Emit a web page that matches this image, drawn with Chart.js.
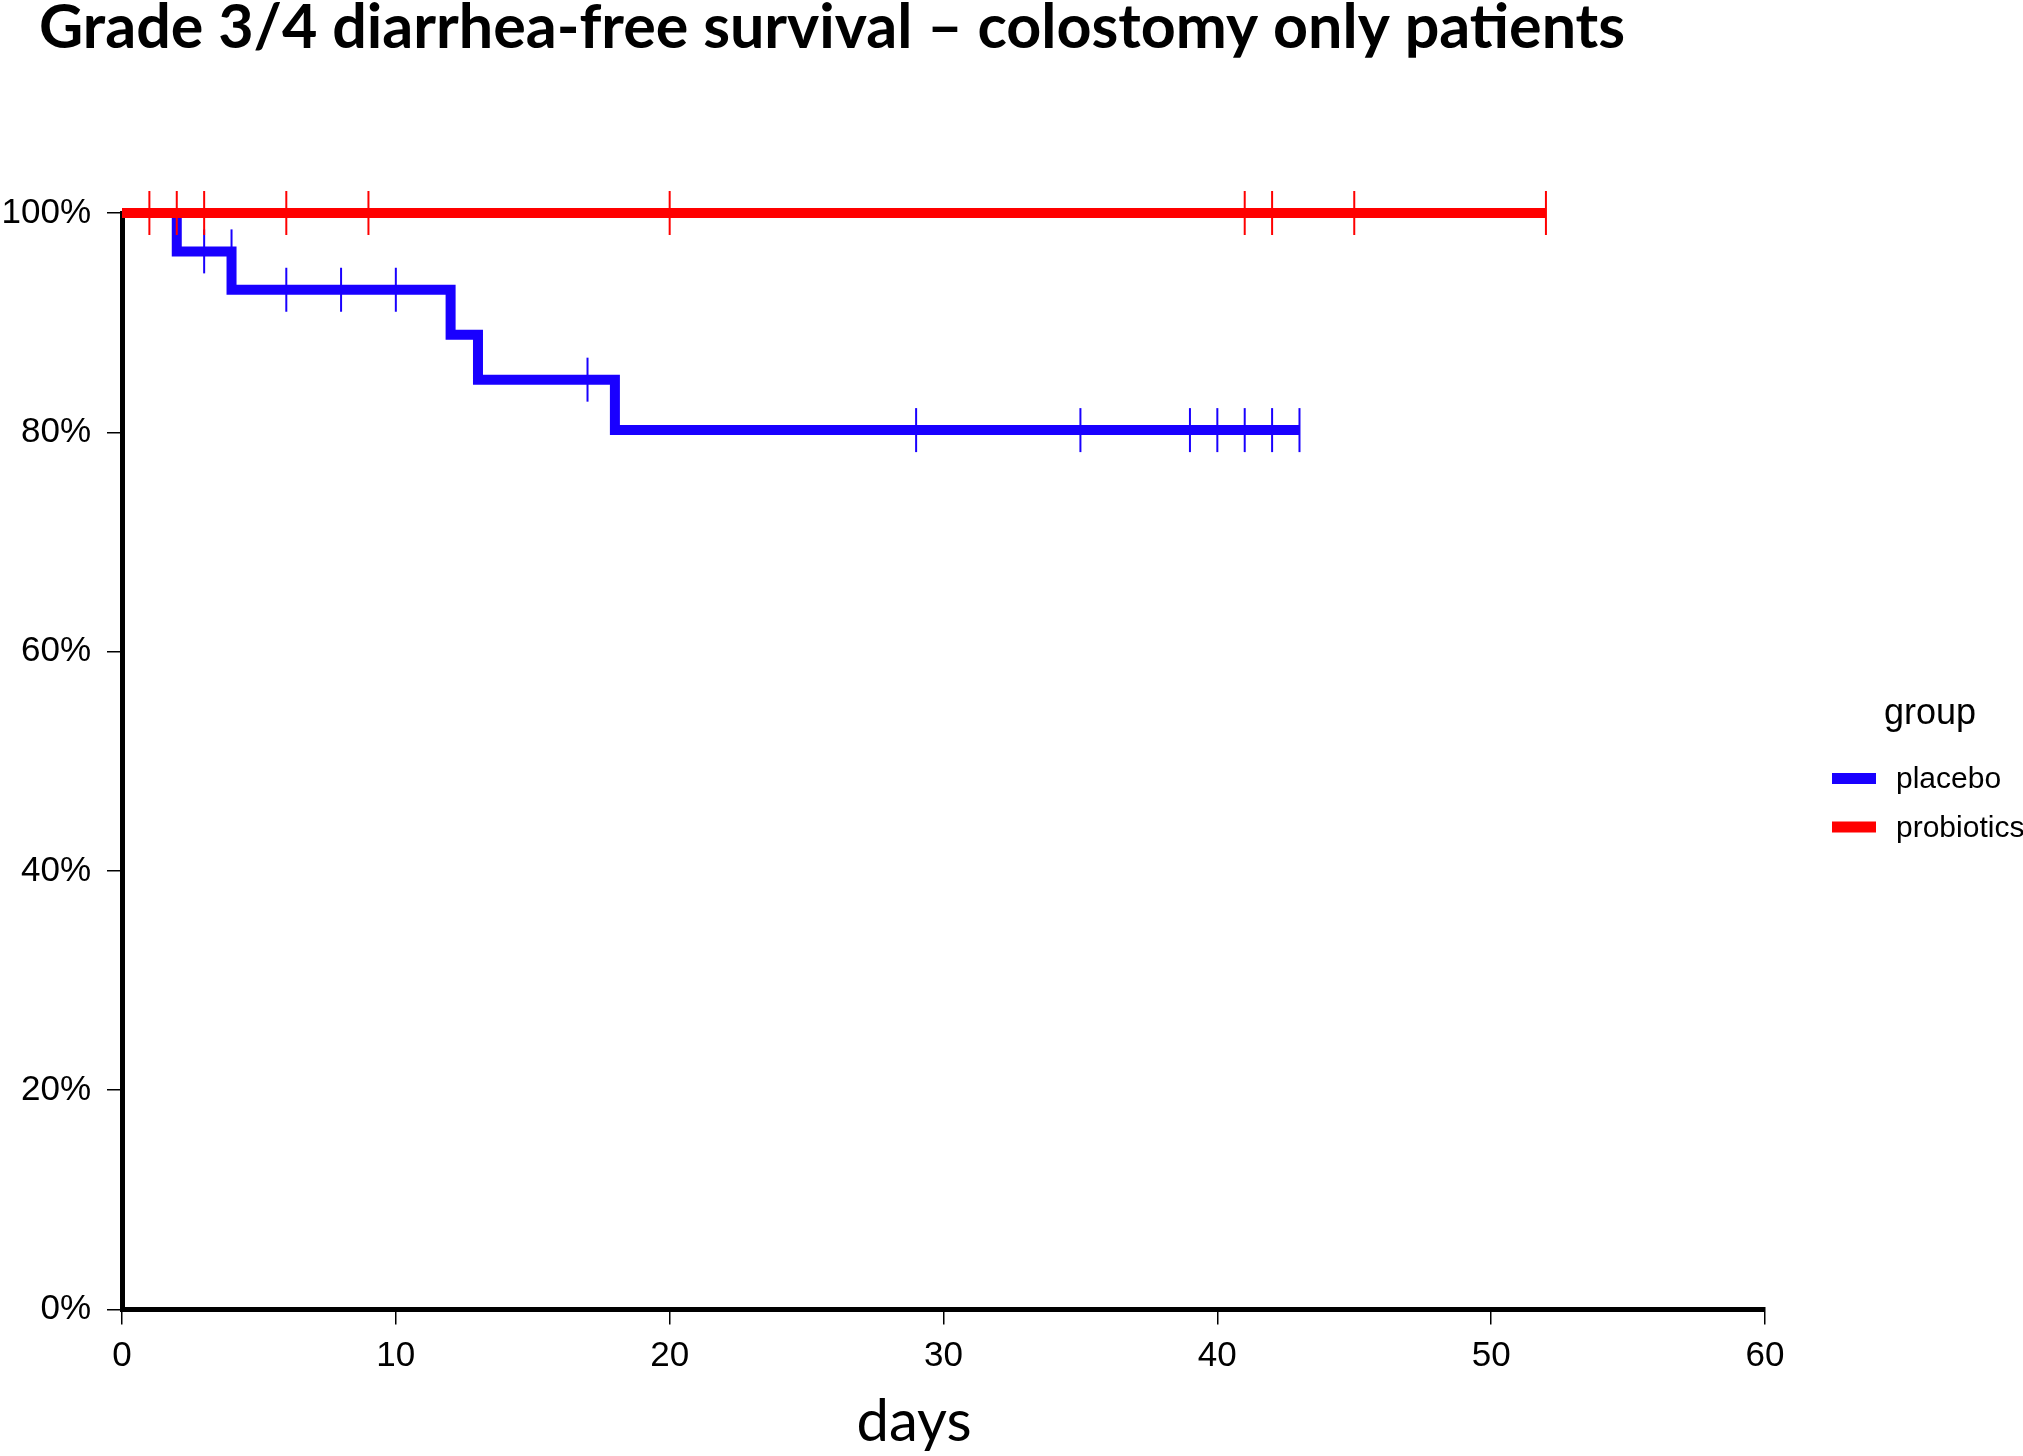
<!DOCTYPE html>
<html>
<head>
<meta charset="utf-8">
<script src="https://cdn.jsdelivr.net/npm/chart.js@4.4.0/dist/chart.umd.min.js"></script>
<style>
  html, body { margin: 0; padding: 0; background: #fff; }
  #wrap { width: 2023px; height: 1456px; }
</style>
</head>
<body>
<div id="wrap"><canvas id="km" width="2023" height="1456"></canvas></div>
<script>
const groups = ['placebo', 'probiotics'];
const groupColors = ['#1900ff', '#ff0000'];

// Kaplan-Meier steps: day of each drop and survival (%) after it
const placeboDays = [0, 2, 4, 12, 13, 18, 43];
const placeboSurv = [100, 96.5, 93.0, 88.9, 84.8, 80.2, 80.2];
const probioticsDays = [0, 52];
const probioticsSurv = [100, 100];

// censoring marks
const placeboCensorDays = [3, 4, 6, 8, 10, 17, 29, 35, 39, 40, 41, 42, 43];
const placeboCensorSurv = [96.5, 96.5, 93.0, 93.0, 93.0, 84.8, 80.2, 80.2, 80.2, 80.2, 80.2, 80.2, 80.2];
const probioticsCensorDays = [1, 2, 3, 6, 9, 20, 41, 42, 45, 52];
const probioticsCensorSurv = [100, 100, 100, 100, 100, 100, 100, 100, 100, 100];

const xTicks = [0, 10, 20, 30, 40, 50, 60];
const yTicks = [0, 20, 40, 60, 80, 100];

const titleText = 'Grade 3/4 diarrhea-free survival \u2013 colostomy only patients';
const xTitle = 'days';
const legendTitle = 'group';

function zip(xs, ys) {
    return xs.map((x, i) => ({ x: x, y: ys[i] }));
}

function curve(label, days, surv, color, order) {
    return {
        label: label,
        data: zip(days, surv),
        borderColor: color,
        backgroundColor: color,
        borderWidth: 10,
        stepped: true,
        pointRadius: 0,
        fill: false,
        clip: false,
        order: order,
    };
}

function censor(label, days, surv, color, order) {
    return {
        label: label,
        data: zip(days, surv),
        showLine: false,
        pointStyle: 'line',
        rotation: 90,
        pointRadius: 22,
        pointBorderWidth: 2,
        pointBorderColor: color,
        pointBackgroundColor: color,
        clip: false,
        order: order,
    };
}

const tickFont = { family: "'Liberation Sans', Arial, sans-serif", size: 35 };

const textPlugin = {
    id: 'textPlugin',
    afterDraw(chart) {
        const ctx = chart.ctx;
        ctx.save();
        ctx.fillStyle = '#000';
        ctx.textBaseline = 'alphabetic';

        // title
        ctx.font = "bold 61px Lato, 'Open Sans', sans-serif";
        ctx.textAlign = 'left';
        ctx.fillText(titleText, 39, 48);

        // x axis title
        ctx.font = "58px Lato, 'Open Sans', sans-serif";
        ctx.textAlign = 'center';
        ctx.fillText(xTitle, 914, 1441);

        // legend
        ctx.font = "36px 'Liberation Sans', Arial, sans-serif";
        ctx.fillText(legendTitle, 1930, 724);
        ctx.font = "30px 'Liberation Sans', Arial, sans-serif";
        ctx.textAlign = 'left';
        groups.forEach((g, i) => {
            const cy = 778.5 + i * 48.5;
            ctx.fillStyle = groupColors[i];
            ctx.fillRect(1832, cy - 5.5, 44, 11);
            ctx.fillStyle = '#000';
            ctx.fillText(g, 1896, cy + 9.5);
        });
        ctx.restore();
    }
};

const config = {
    type: 'line',
    data: {
        datasets: [
            curve(groups[1], probioticsDays, probioticsSurv, groupColors[1], 1),
            censor(groups[1] + ' censored', probioticsCensorDays, probioticsCensorSurv, groupColors[1], 0),
            curve(groups[0], placeboDays, placeboSurv, groupColors[0], 3),
            censor(groups[0] + ' censored', placeboCensorDays, placeboCensorSurv, groupColors[0], 2),
        ]
    },
    options: {
        responsive: false,
        animation: false,
        devicePixelRatio: 1,
        events: [],
        layout: {
            padding: { top: 213, left: 0, right: 258, bottom: 0 }
        },
        scales: {
            x: {
                type: 'linear',
                min: 0,
                max: 60,
                afterBuildTicks: s => { s.ticks = xTicks.map(v => ({ value: v })); },
                afterFit: s => { s.height = 146.5; },
                grid: {
                    drawOnChartArea: false,
                    drawTicks: true,
                    tickLength: 15,
                    lineWidth: 1.5,
                    color: '#000',
                    tickColor: '#000',
                },
                border: { display: true, color: '#000', width: 5 },
                ticks: { color: '#000', font: tickFont, padding: 11, maxRotation: 0 },
            },
            y: {
                type: 'linear',
                min: 0,
                max: 100,
                afterBuildTicks: s => { s.ticks = yTicks.map(v => ({ value: v })); },
                afterFit: s => { s.width = 122; },
                grid: {
                    drawOnChartArea: false,
                    drawTicks: true,
                    tickLength: 15,
                    lineWidth: 1.5,
                    color: '#000',
                    tickColor: '#000',
                },
                border: { display: true, color: '#000', width: 5 },
                ticks: {
                    color: '#000',
                    font: tickFont,
                    padding: 16,
                    callback: v => v + '%',
                },
            }
        },
        plugins: {
            legend: { display: false },
            tooltip: { enabled: false },
            title: { display: false },
        }
    },
    plugins: [textPlugin],
};

const myChart = new Chart(document.getElementById('km'), config);
</script>
</body>
</html>
